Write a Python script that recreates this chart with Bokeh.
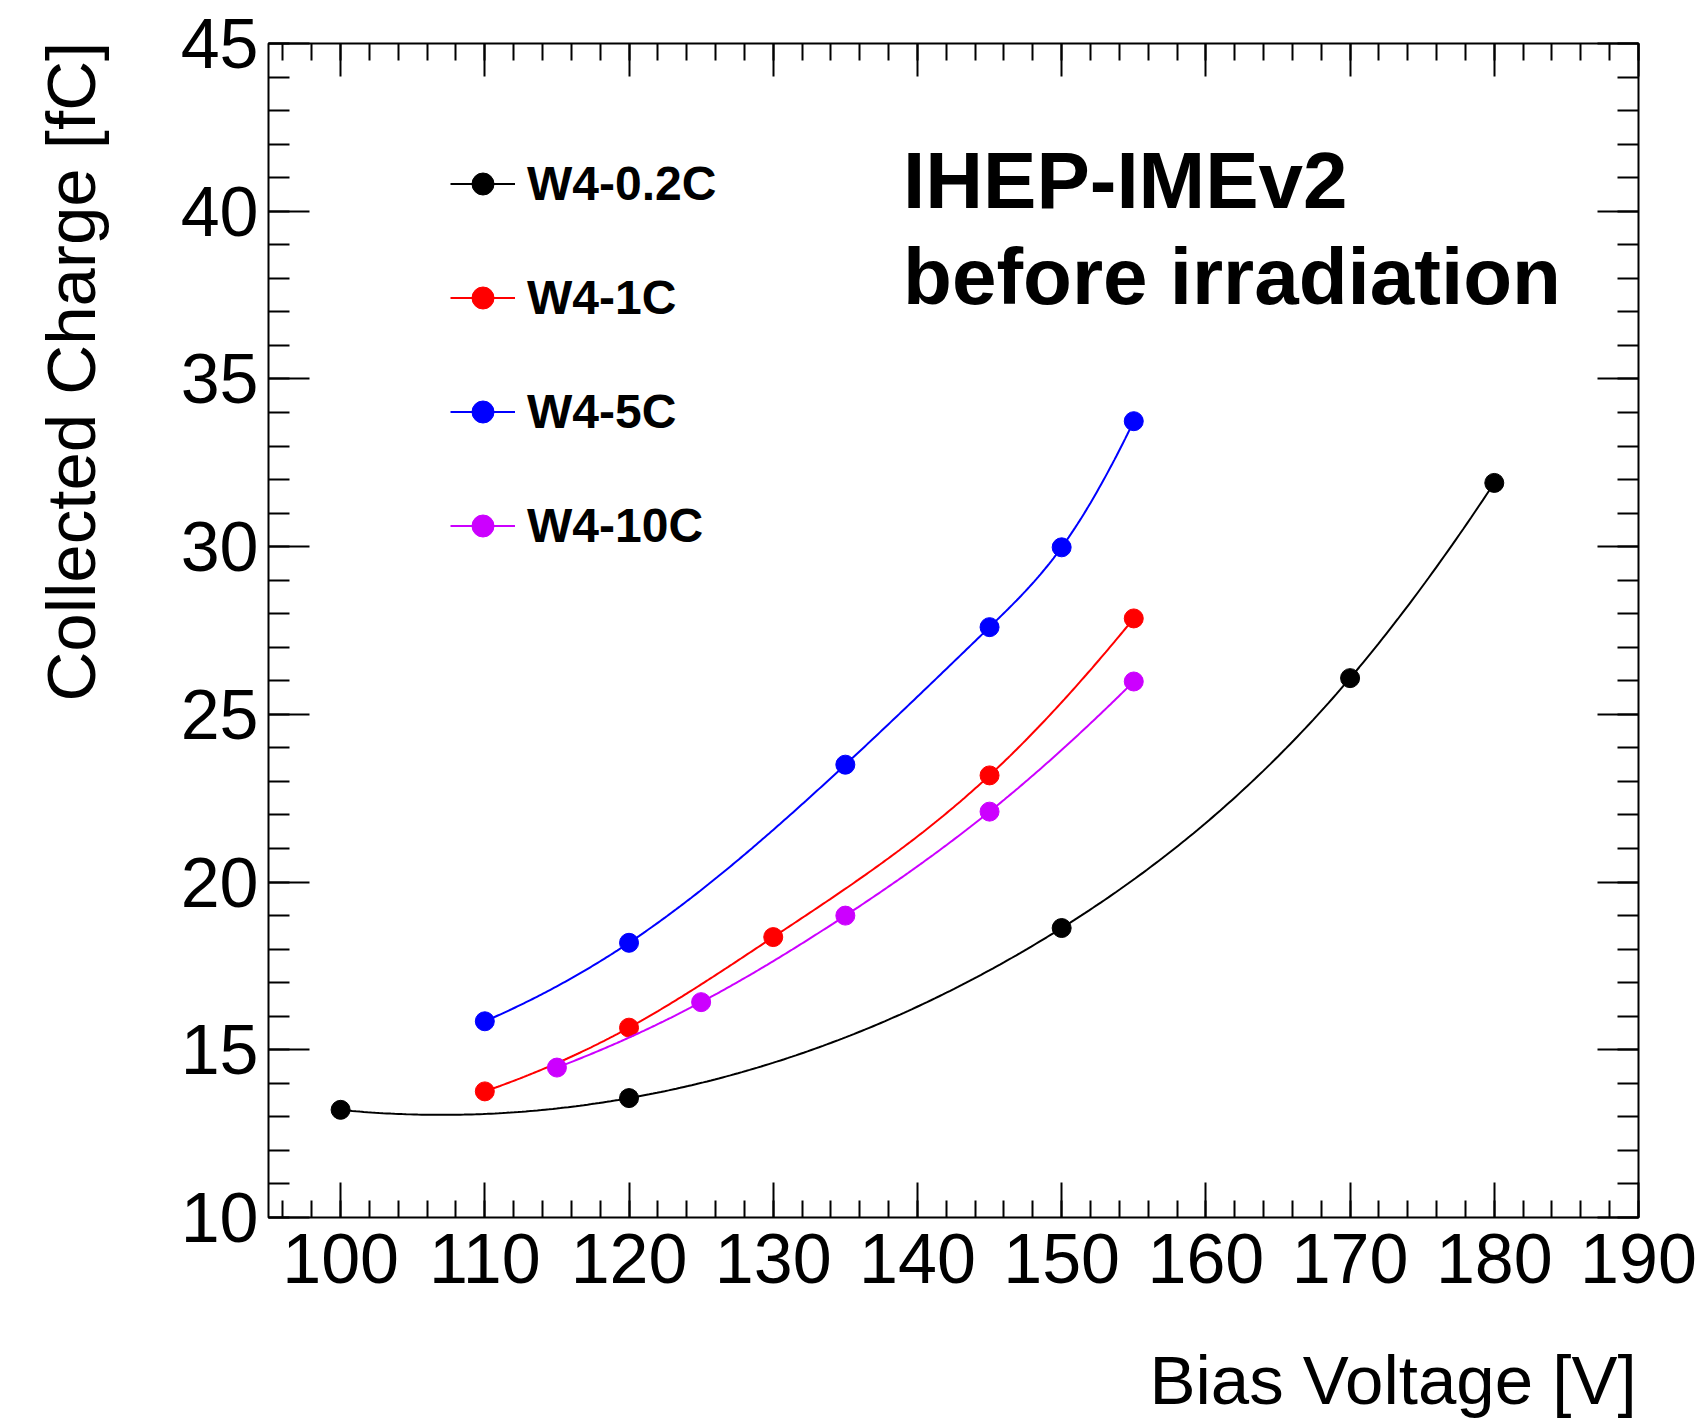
import numpy as np
from bokeh.plotting import figure
from bokeh.models import (Range1d, LinearAxis, FixedTicker, Label, Legend, LegendItem)
from bokeh.layouts import row, column
from bokeh.embed import file_html
from bokeh.resources import INLINE

# ---- data ----
series_names = ["W4-0.2C", "W4-1C", "W4-5C", "W4-10C"]
series_colors = ["#000000", "#ff0000", "#0000ff", "#cc00ff"]
x_02C = [100, 120, 150, 170, 180]
y_02C = [13.21, 13.56, 18.63, 26.08, 31.90]
x_1C = [110, 120, 130, 145, 155]
y_1C = [13.76, 15.66, 18.36, 23.18, 27.86]
x_5C = [110, 120, 135, 145, 150, 155]
y_5C = [15.85, 18.19, 23.50, 27.60, 29.98, 33.74]
x_10C = [115, 125, 135, 145, 155]
y_10C = [14.47, 16.42, 19.00, 22.10, 25.98]

x_major = list(range(100, 191, 10))
x_minor = list(range(96, 191, 2))
y_major = list(range(10, 46, 5))
y_minor = list(range(10, 46, 1))

xlabel = "Bias Voltage [V]"
ylabel = "Collected Charge [fC]"
title1 = "IHEP-IMEv2"
title2 = "before irradiation"


def smooth_curve(xs, ys, n=300):
    """Clamped cubic spline; end slopes from the parabola through the 3 end points."""
    xs = np.asarray(xs, float)
    ys = np.asarray(ys, float)
    k = len(xs)
    h = np.diff(xs)
    d = np.diff(ys) / h
    s0 = d[0] + (d[0] - d[1]) / (xs[2] - xs[0]) * h[0] * -1.0
    s0 = d[0] - (d[1] - d[0]) / (xs[2] - xs[0]) * h[0]
    sn = d[-1] + (d[-1] - d[-2]) / (xs[-1] - xs[-3]) * h[-1]
    A = np.zeros((k, k))
    b = np.zeros(k)
    A[0, 0] = 2 * h[0]
    A[0, 1] = h[0]
    b[0] = 6 * (d[0] - s0)
    A[-1, -2] = h[-1]
    A[-1, -1] = 2 * h[-1]
    b[-1] = 6 * (sn - d[-1])
    for i in range(1, k - 1):
        A[i, i - 1] = h[i - 1]
        A[i, i] = 2 * (h[i - 1] + h[i])
        A[i, i + 1] = h[i]
        b[i] = 6 * (d[i] - d[i - 1])
    M = np.linalg.solve(A, b)
    xd = np.linspace(xs[0], xs[-1], n)
    yd = np.empty_like(xd)
    for j, xv in enumerate(xd):
        i = min(max(np.searchsorted(xs, xv) - 1, 0), k - 2)
        t0 = xs[i + 1] - xv
        t1 = xv - xs[i]
        yd[j] = (M[i] * t0 ** 3 / (6 * h[i]) + M[i + 1] * t1 ** 3 / (6 * h[i])
                 + (ys[i] / h[i] - M[i] * h[i] / 6) * t0
                 + (ys[i + 1] / h[i] - M[i + 1] * h[i] / 6) * t1)
    return xd, yd


FONT = "Liberation Sans"
TOTAL_W, TOTAL_H = 1706, 1418
LEFT_W = 140
MAIN_H = 1330


def blank_fig(w, h, xr, yr):
    f = figure(width=w, height=h, output_backend="svg", toolbar_location=None,
               x_range=xr, y_range=yr, x_axis_location=None, y_axis_location=None,
               min_border=0, min_border_left=0, min_border_right=0,
               min_border_top=0, min_border_bottom=0)
    f.xgrid.visible = False
    f.ygrid.visible = False
    f.outline_line_color = None
    f.background_fill_color = "white"
    f.border_fill_color = "white"
    return f


p = figure(width=TOTAL_W - LEFT_W, height=MAIN_H, output_backend="svg", toolbar_location=None,
           x_range=Range1d(95, 190), y_range=Range1d(10, 45),
           x_axis_location=None, y_axis_location=None,
           min_border_left=268 - LEFT_W, min_border_right=68, min_border_top=43,
           min_border_bottom=MAIN_H - 1217)
p.xgrid.visible = False
p.ygrid.visible = False
p.outline_line_color = "black"
p.outline_line_width = 2
p.background_fill_color = "white"
p.border_fill_color = "white"


def make_axis(kind, loc, show_labels):
    if kind == "x":
        ticks = x_major
        ax = LinearAxis(ticker=FixedTicker(ticks=x_major, minor_ticks=x_minor))
        mj_in, mn_in = (35, 17) if loc == "below" else (33, 17)
    else:
        ticks = y_major
        ax = LinearAxis(ticker=FixedTicker(ticks=y_major, minor_ticks=y_minor))
        mj_in, mn_in = 41, 21
    ax.axis_line_color = None
    ax.major_tick_in = mj_in
    ax.major_tick_out = 0
    ax.minor_tick_in = mn_in
    ax.minor_tick_out = 0
    ax.major_tick_line_width = 2
    ax.minor_tick_line_width = 2
    ax.major_tick_line_color = "black"
    ax.minor_tick_line_color = "black"
    ax.major_label_text_font = FONT
    if show_labels:
        ax.major_label_text_font_size = "70px"
        ax.major_label_text_color = "black"
        ax.major_label_standoff = 16 if kind == "x" else 10
    else:
        ax.major_label_overrides = {t: "" for t in ticks}
        ax.major_label_text_font_size = "10px"
        ax.major_label_standoff = 0
    p.add_layout(ax, loc)
    return ax


make_axis("x", "below", True)
make_axis("x", "above", False)
make_axis("y", "left", True)
make_axis("y", "right", False)

xs_all = [x_02C, x_1C, x_5C, x_10C]
ys_all = [y_02C, y_1C, y_5C, y_10C]
items = []
for name, col, xs, ys in zip(series_names, series_colors, xs_all, ys_all):
    xd, yd = smooth_curve(xs, ys)
    r_line = p.line(xd, yd, line_color=col, line_width=2)
    r_pts = p.scatter(xs, ys, marker="circle", size=19, fill_color=col, line_color=col)
    items.append(LegendItem(label=name, renderers=[r_line, r_pts]))

legend = Legend(items=items, location=(182, 664), orientation="vertical",
                glyph_width=65, glyph_height=55, label_height=55, spacing=59,
                label_standoff=12, padding=0, margin=0,
                border_line_alpha=0, background_fill_alpha=0,
                label_text_font=FONT, label_text_font_style="bold",
                label_text_font_size="48px", label_text_color="black")
p.add_layout(legend, "center")

p.add_layout(Label(x=139.0, y=40.91, text=title1, text_align="left", text_baseline="alphabetic",
                   text_font=FONT, text_font_style="bold",
                   text_font_size="80px", text_color="black"))
p.add_layout(Label(x=139.0, y=38.04, text=title2, text_align="left", text_baseline="alphabetic",
                   text_font=FONT, text_font_style="bold",
                   text_font_size="80px", text_color="black"))

# y-axis title panel (page pixel coordinates)
p_left = blank_fig(LEFT_W, TOTAL_H, Range1d(0, LEFT_W), Range1d(TOTAL_H, 0))
p_left.add_layout(Label(x=71, y=701, text=ylabel, angle=np.pi / 2, text_align="left",
                        text_baseline="alphabetic",
                        text_font=FONT, text_font_size="69px", text_color="black"))

# x-axis title panel (page pixel coordinates)
p_bot = blank_fig(TOTAL_W - LEFT_W, TOTAL_H - MAIN_H, Range1d(LEFT_W, TOTAL_W), Range1d(TOTAL_H, MAIN_H))
p_bot.add_layout(Label(x=1147, y=1380, text=xlabel, text_align="left", text_baseline="alphabetic",
                       text_font=FONT, text_font_size="69px", text_color="black"))

layout = row(p_left, column(p, p_bot))
open("out.html", "w").write(file_html(layout, INLINE))
